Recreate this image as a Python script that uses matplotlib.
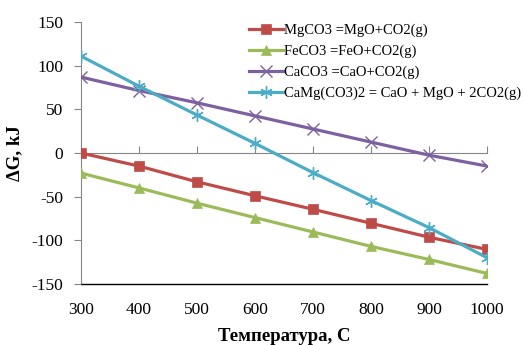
import numpy as np
import matplotlib
matplotlib.use("Agg")
import matplotlib.pyplot as plt

plt.rcParams['font.family'] = ['Liberation Serif', 'DejaVu Serif']
plt.rcParams['axes.unicode_minus'] = False

temps = [300, 400, 500, 600, 700, 800, 900, 1000]
mgco3 = [0, -15, -33, -49, -64.5, -80.5, -96.5, -110.5]
feco3 = [-23, -40, -57.5, -74, -90.5, -107, -122, -138]
caco3 = [87, 71.5, 57.5, 42.5, 27.5, 12.5, -2.5, -15]
camg = [111, 76.5, 43.5, 11, -22.5, -54.5, -85.5, -120]

labels = ["MgCO3 =MgO+CO2(g)", "FeCO3 =FeO+CO2(g)", "CaCO3 =CaO+CO2(g)",
          "CaMg(CO3)2 = CaO + MgO + 2CO2(g)"]
colors = ['#BE4B48', '#9BBB59', '#7D60A0', '#4BACC6']
markers = ['s', '^', 'x', (6, 2, 0)]
msizes = [7.5, 7.5, 8, 9]
series = [mgco3, feco3, caco3, camg]

fig = plt.figure(figsize=(5.24, 3.45), dpi=100)
ax = fig.add_axes([0.1546, 0.177, 0.775, 0.759])

for ys, lab, c, m, ms in zip(series, labels, colors, markers, msizes):
    ax.plot(temps, ys, color=c, lw=2.3, marker=m, markersize=ms,
            markeredgewidth=1.0 if m not in ('s', '^') else 0.5, label=lab)

ax.set_xlim(300, 1000)
ax.set_ylim(-150, 150)
ax.set_yticks(np.arange(-150, 151, 50))
ax.set_xticks(temps)

for s in ['top', 'right']:
    ax.spines[s].set_visible(False)
ax.spines['left'].set_color('#868686')
ax.spines['bottom'].set_position(('data', 0))
ax.spines['bottom'].set_color('#868686')
ax.tick_params(axis='x', direction='in', length=5, color='#868686', labelbottom=False)
ax.tick_params(axis='y', direction='out', length=5, color='#868686', labelsize=12.5, pad=8)
ax.spines['left'].set_zorder(0)
ax.spines['bottom'].set_zorder(0)

sec = ax.secondary_xaxis('bottom')
sec.set_xticks(temps)
sec.tick_params(length=0, labelsize=12.5, pad=13)
sec.spines['bottom'].set_color('black')
sec.spines['bottom'].set_linewidth(1.0)

ax.set_ylabel('ΔG, kJ', fontsize=13.5, fontweight='bold', labelpad=6)
sec.set_xlabel('Температура, С', fontsize=13.5, fontweight='bold', labelpad=7)

ax.legend(loc='upper left', bbox_to_anchor=(0.40, 1.015), frameon=False,
          fontsize=10.5, handlelength=2.3, handletextpad=0.05, labelspacing=0.5,
          borderaxespad=0)

fig.savefig('out.png', dpi=100)
